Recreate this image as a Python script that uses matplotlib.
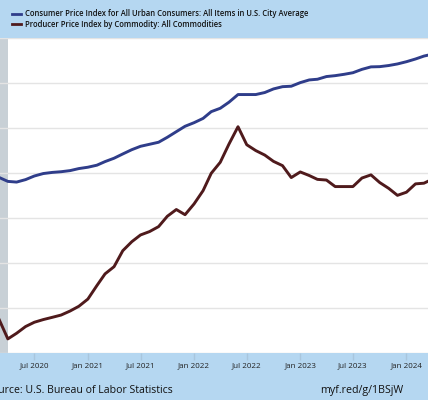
import matplotlib
matplotlib.use("Agg")
import matplotlib.pyplot as plt
import matplotlib.dates as mdates
import pandas as pd
import numpy as np

# ---- data (monthly, Feb 2020 .. Apr 2024) ----
months = pd.date_range("2020-02-01", "2024-04-01", freq="MS")
cpi = [258.7, 258.2, 256.4, 256.1, 257.2, 258.8, 259.9, 260.4, 260.7, 261.2, 262.1,
       262.7, 263.6, 265.2, 266.7, 268.6, 270.5, 272.0, 272.9, 273.8, 276.0, 278.5, 280.9,
       282.5, 284.4, 287.4, 288.9, 291.6, 295.0, 295.0, 295.0, 295.9, 297.5, 298.5, 298.7,
       300.3, 301.5, 301.8, 303.0, 303.4, 304.0, 304.7, 306.2, 307.3, 307.4, 307.9, 308.6,
       309.6, 310.8, 312.1, 313.0]
ppi = [198.0, 195.3, 186.4, 188.9, 191.9, 193.8, 195.0, 196.0, 197.0, 198.8, 200.9,
       204.1, 210.1, 215.3, 218.5, 225.6, 229.6, 232.6, 234.1, 236.3, 240.9, 243.9, 241.6,
       246.4, 252.3, 260.0, 264.9, 273.0, 280.7, 272.7, 270.1, 268.1, 265.3, 263.4, 258.1,
       260.6, 259.0, 257.3, 257.0, 254.1, 254.1, 254.1, 257.9, 259.3, 255.9, 253.3, 250.2,
       251.6, 255.3, 255.6, 257.5]
series_names = ["Consumer Price Index for All Urban Consumers: All Items in U.S. City Average",
                "Producer Price Index by Commodity: All Commodities"]
tick_dates = pd.date_range("2020-07-01", "2024-01-01", freq="6MS")
tick_labels = [d.strftime("%b %Y") for d in tick_dates]
recession = (pd.Timestamp("2020-02-01"), pd.Timestamp("2020-04-01"))

BG = "#b5d7f1"
C1 = "#2f3d8a"
C2 = "#4f1a1c"

W, H = 428, 400
fig = plt.figure(figsize=(W / 100, H / 100), dpi=100, facecolor=BG)
top, bot = 38.3, 353.3
ax = fig.add_axes([0, 1 - bot / H, 1, (bot - top) / H])
ax.set_facecolor("white")

ax.axvspan(recession[0], recession[1], color="#c8d0d6", zorder=1, lw=0)
ax.plot(months, ppi, color=C2, lw=2.1, zorder=3)
ax.plot(months, cpi, color=C1, lw=2.1, zorder=3)

ax.set_ylim(180, 320)
ax.set_yticks(np.arange(180, 321, 20))
ax.yaxis.grid(True, color="#e4e4e4", lw=1.0, zorder=0)
ax.tick_params(axis="y", left=False, labelleft=False)

ax.set_xlim(pd.Timestamp("2020-03-05"), pd.Timestamp("2024-03-15"))
ax.set_xticks(tick_dates)
ax.set_xticklabels(tick_labels, fontsize=5.8, color="#222222", family="Open Sans")
ax.tick_params(axis="x", length=5, color="#a9c6dd", width=1, pad=1.5)
for s in ax.spines.values():
    s.set_visible(False)

# legend (manual)
for i, (name, c) in enumerate(zip(series_names, [C1, C2])):
    y = 1 - (14.0 + 10.3 * i) / H
    fig.add_artist(plt.Line2D([12.3 / W, 20.7 / W], [y, y], color=c, lw=2.0,
                              transform=fig.transFigure))
    fig.text(25 / W, y, name, fontsize=5.5, fontweight="semibold", family="Open Sans",
             va="center", ha="left", color="#111111")

fig.text(172.7 / W, 1 - 390.7 / H, "Source: U.S. Bureau of Labor Statistics",
         fontsize=7.6, family="Open Sans", ha="right", va="center", color="#111111")
fig.text(403 / W, 1 - 390.7 / H, "myf.red/g/1BSjW",
         fontsize=7.7, family="Open Sans", ha="right", va="center", color="#111111")

fig.savefig("out.png", dpi=100, facecolor=BG)
